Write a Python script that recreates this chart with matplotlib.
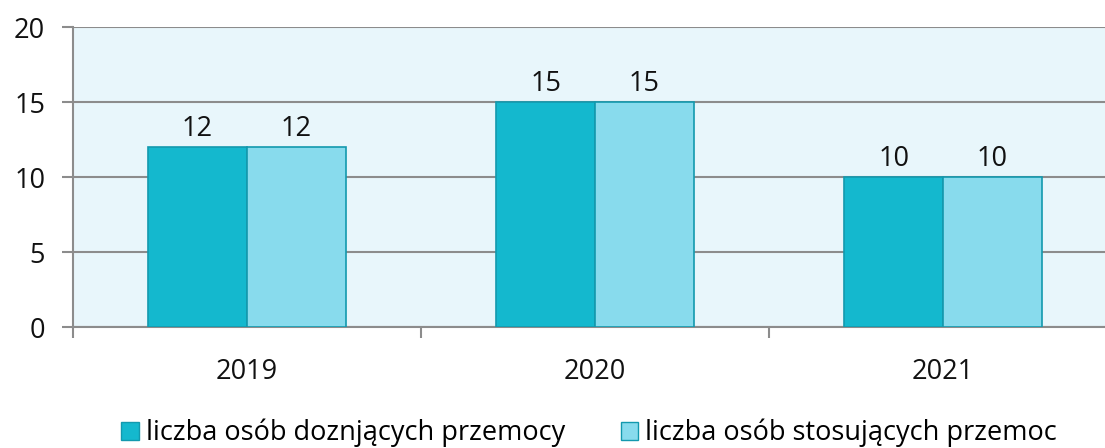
import matplotlib
matplotlib.use("Agg")
import matplotlib.pyplot as plt
import numpy as np
from matplotlib.patches import Patch

years = ["2019", "2020", "2021"]
victims = [12, 15, 10]
perpetrators = [12, 15, 10]
series_labels = ["liczba osób doznjących przemocy", "liczba osób stosujących przemoc"]
yticks = [0, 5, 10, 15, 20]

plt.rcParams['font.family'] = ['Open Sans', 'DejaVu Sans']
FS = 19.5

W, H = 1105, 448
fig = plt.figure(figsize=(W/100, H/100), dpi=100)
left, right, top, bottom = 73, 1117, 27, 327
ax = fig.add_axes([left/W, 1-bottom/H, (right-left)/W, (bottom-top)/H])
ax.set_facecolor("#E8F6FB")

x = np.arange(len(years))
bw = 0.284
c1, c2, ec = "#14B8CE", "#88DBED", "#1399AE"
b1 = ax.bar(x - bw/2, victims, bw, color=c1, edgecolor=ec, linewidth=1.2, zorder=3)
b2 = ax.bar(x + bw/2, perpetrators, bw, color=c2, edgecolor=ec, linewidth=1.2, zorder=3)
for bars in (b1, b2):
    for r in bars:
        ax.text(r.get_x()+r.get_width()/2, r.get_height()+0.3, f"{int(r.get_height())}",
                ha="center", va="bottom", fontsize=FS, color="#111111")

ax.set_xlim(-0.5, 2.5)
ax.set_ylim(0, 20)
ax.set_yticks(yticks)
ax.set_yticklabels([str(t) for t in yticks], fontsize=FS)
ax.yaxis.grid(True, color="#8C8C8C", linewidth=1.5, zorder=1)
ax.set_axisbelow(True)
ax.tick_params(axis="y", length=8, width=1.5, color="#8C8C8C", pad=12, labelcolor="#111111")

ax.set_xticks([-0.5, 0.5, 1.5])
ax.set_xticklabels([])
ax.set_xticks(x, minor=True)
ax.set_xticklabels(years, minor=True, fontsize=FS, color="#111111")
ax.tick_params(axis="x", which="major", length=8, width=1.5, color="#8C8C8C", direction="out")
ax.tick_params(axis="x", which="minor", length=0, pad=22)

for s in ["top", "right"]:
    ax.spines[s].set_visible(False)
for s in ["left", "bottom"]:
    ax.spines[s].set_color("#8C8C8C")
    ax.spines[s].set_linewidth(1.5)

handles = [Patch(facecolor=c1, edgecolor=ec), Patch(facecolor=c2, edgecolor=ec)]
fig.legend(handles, series_labels, loc="center", bbox_to_anchor=(589/W, 1-433/H), ncol=2,
           frameon=False, fontsize=FS, handlelength=0.65, handleheight=0.65, handletextpad=0.25,
           columnspacing=2.05, borderaxespad=0)

fig.savefig("out.png", dpi=100)
